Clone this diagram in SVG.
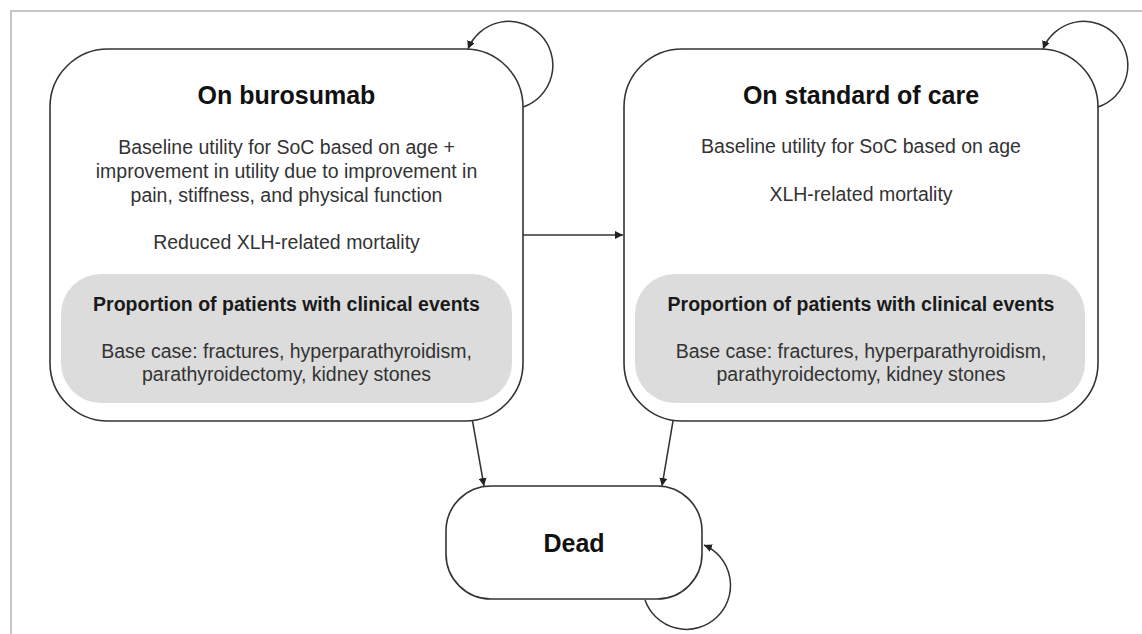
<svg xmlns="http://www.w3.org/2000/svg" width="1142" height="634" viewBox="0 0 1142 634">
<style>
.frame{fill:none;stroke:#b4b4b4;stroke-width:1.5}
.box{fill:#fff;stroke:#333;stroke-width:1.6}
.inner{fill:#dcdcdc;stroke:none}
.title{font-family:"Liberation Sans",Arial,sans-serif;font-weight:bold;font-size:25px;fill:#111;text-anchor:middle}
.sub{font-family:"Liberation Sans",Arial,sans-serif;font-weight:bold;font-size:19.5px;fill:#1a1a1a;text-anchor:middle}
.body{font-family:"Liberation Sans",Arial,sans-serif;font-size:19.5px;fill:#333;text-anchor:middle}
.conn{fill:none;stroke:#333;stroke-width:1.5}
</style>
<defs>
<marker id="ah" viewBox="0 0 10 10" refX="10" refY="5" markerWidth="8" markerHeight="8" markerUnits="userSpaceOnUse" orient="auto">
<path d="M0,0 L10,5 L0,10 Z" fill="#222"/>
</marker>
</defs>
<rect class="frame" x="11" y="11" width="1200" height="700"/>
<g id="connectors">
<path class="conn" d="M523,107 A44,44 0 1 0 468,49" marker-end="url(#ah)"/>
<path class="conn" d="M1098,107 A44,44 0 1 0 1043,49" marker-end="url(#ah)"/>
<path class="conn" d="M645,600 A44,44 0 1 0 704,545" marker-end="url(#ah)"/>
<line class="conn" x1="523" y1="235" x2="623" y2="235" marker-end="url(#ah)"/>
<line class="conn" x1="472.5" y1="421" x2="484" y2="486" marker-end="url(#ah)"/>
<line class="conn" x1="673" y1="421" x2="662" y2="486" marker-end="url(#ah)"/>
</g>
<g id="node-burosumab">
<rect class="box" x="50" y="49" width="473" height="372" rx="58" ry="58"/>
<text class="title" x="286.5" y="104">On burosumab</text>
<text class="body" x="286.5" y="154">Baseline utility for SoC based on age +</text>
<text class="body" x="286.5" y="178">improvement in utility due to improvement in</text>
<text class="body" x="286.5" y="202">pain, stiffness, and physical function</text>
<text class="body" x="286.5" y="249">Reduced XLH-related mortality</text>
<rect class="inner" x="61" y="274" width="451" height="129" rx="40" ry="40"/>
<text class="sub" x="286.5" y="311">Proportion of patients with clinical events</text>
<text class="body" x="286.5" y="358">Base case: fractures, hyperparathyroidism,</text>
<text class="body" x="286.5" y="381">parathyroidectomy, kidney stones</text>
</g>
<g id="node-soc">
<rect class="box" x="624" y="49" width="474" height="372" rx="58" ry="58"/>
<text class="title" x="861" y="104">On standard of care</text>
<text class="body" x="861" y="153">Baseline utility for SoC based on age</text>
<text class="body" x="861" y="201">XLH-related mortality</text>
<rect class="inner" x="635" y="274" width="450" height="129" rx="40" ry="40"/>
<text class="sub" x="861" y="311">Proportion of patients with clinical events</text>
<text class="body" x="861" y="358">Base case: fractures, hyperparathyroidism,</text>
<text class="body" x="861" y="381">parathyroidectomy, kidney stones</text>
</g>
<g id="node-dead">
<rect class="box" x="446" y="486" width="256" height="113" rx="45" ry="45"/>
<text class="title" x="574" y="552">Dead</text>
</g>
</svg>
